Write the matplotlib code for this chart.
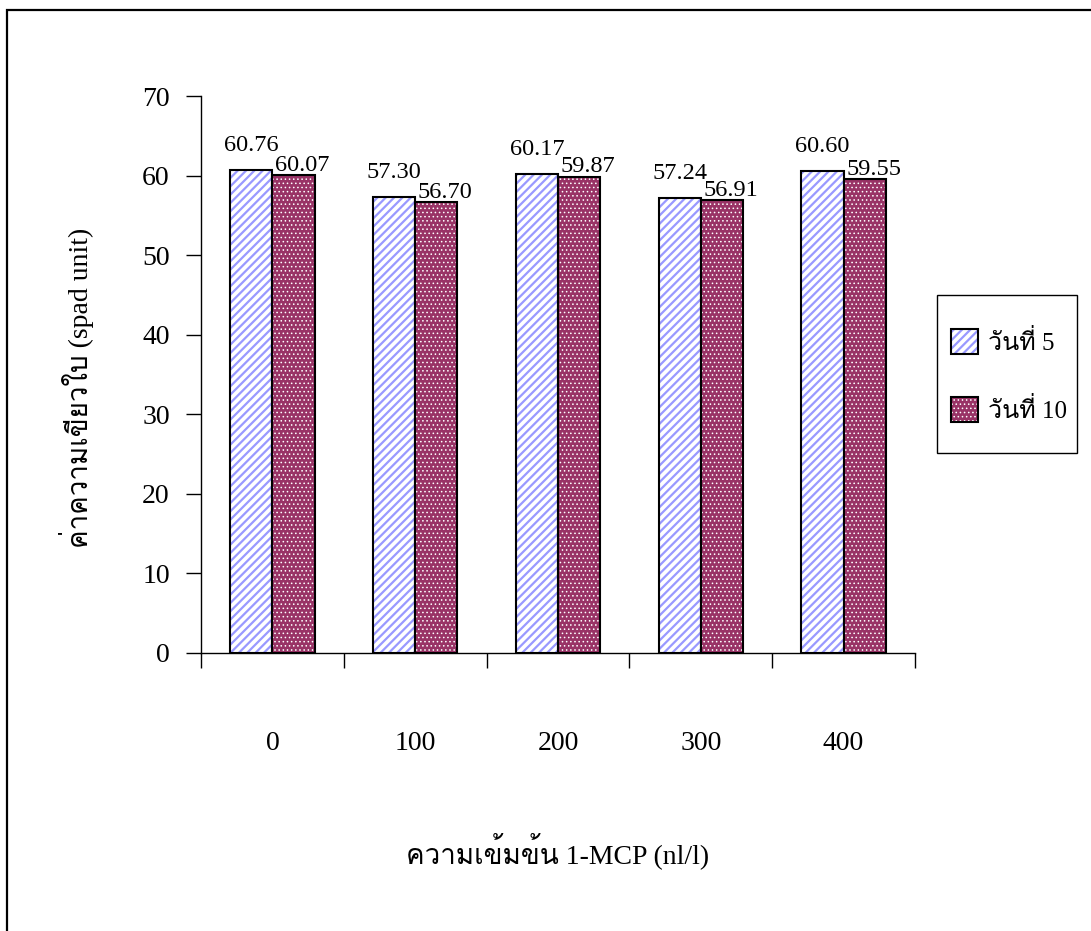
import matplotlib
matplotlib.use('Agg')
import matplotlib.pyplot as plt
from matplotlib import font_manager
from matplotlib.ft2font import FT2Font
from matplotlib.patches import Patch, Rectangle

# ---------------- data ----------------
categories = ['0', '100', '200', '300', '400']
day5 = [60.76, 57.30, 60.17, 57.24, 60.60]
day10 = [60.07, 56.70, 59.87, 56.91, 59.55]
series_names = ['วันที่ 5', 'วันที่ 10']
yticks = [0, 10, 20, 30, 40, 50, 60, 70]
ylabel = 'ค่าความเขียวใบ (spad unit)'
xlabel = 'ความเข้มข้น 1-MCP (nl/l)'


def find_thai_font():
    seen = set()
    for f in font_manager.fontManager.ttflist:
        if f.fname in seen:
            continue
        seen.add(f.fname)
        try:
            cm = FT2Font(f.fname).get_charmap()
        except Exception:
            continue
        if 0x0E27 in cm and 0x0E35 in cm and 0x0E19 in cm:
            return f.name
    return None


thai = find_thai_font()
fams = ['Liberation Serif'] + ([thai] if thai else []) + ['DejaVu Sans']
plt.rcParams['font.family'] = fams

W, H = 1091, 931
fig = plt.figure(figsize=(W / 100, H / 100), dpi=100)

# outer frame (left & top visible)
fig.add_artist(Rectangle((7 / W, -0.5), 2.0, 0.5 + 1 - 10 / H, transform=fig.transFigure,
                         fill=False, edgecolor='black', linewidth=1.6))

ax = fig.add_axes([201 / W, 1 - 653 / H, (915 - 201) / W, (653 - 96) / H])
ax.set_xlim(0, len(categories))
ax.set_ylim(0, 70)

w = 0.295
centers = [i + 0.5 for i in range(len(categories))]
xb = [c - w / 2 for c in centers]
xr = [c + w / 2 for c in centers]

blue = '#9999FF'
red = '#993366'
HATCH_B, HATCH_R = '////', '....'
LW_B, LW_R = 1.6, 0.6


def set_hlw(patches, lw):
    for p in patches:
        if hasattr(p, 'set_hatch_linewidth'):
            p.set_hatch_linewidth(lw)


plt.rcParams['hatch.linewidth'] = LW_B
b1 = ax.bar(xb, day5, width=w, color='white', hatch=HATCH_B, edgecolor=blue, linewidth=0)
set_hlw(b1, LW_B)
ax.bar(xb, day5, width=w, fill=False, edgecolor='black', linewidth=1.5)
plt.rcParams['hatch.linewidth'] = LW_R
b2 = ax.bar(xr, day10, width=w, color=red, hatch=HATCH_R, edgecolor='white', linewidth=0)
set_hlw(b2, LW_R)
ax.bar(xr, day10, width=w, fill=False, edgecolor='black', linewidth=1.5)

for x, v in zip(xb, day5):
    ax.annotate(f'{v:.2f}', xy=(x, v), xytext=(0, 13.5), textcoords='offset points',
                ha='center', va='baseline', fontsize=17.5)
for x, v in zip(xr, day10):
    ax.annotate(f'{v:.2f}', xy=(x, v), xytext=(6.5, 3.0), textcoords='offset points',
                ha='center', va='baseline', fontsize=17.5)

for s in ['top', 'right']:
    ax.spines[s].set_visible(False)
ax.spines['left'].set_linewidth(1.0)
ax.spines['bottom'].set_linewidth(1.0)

ax.set_yticks(yticks)
ax.set_yticklabels([str(t) for t in yticks], fontsize=20)
ax.tick_params(axis='y', direction='out', length=10.5, width=1, pad=12)

ax.set_xticks(range(len(categories) + 1))
ax.set_xticklabels([])
ax.tick_params(axis='x', which='major', direction='out', length=11, width=1)
ax.set_xticks(centers, minor=True)
ax.set_xticklabels(categories, minor=True, fontsize=20)
ax.tick_params(axis='x', which='minor', length=0, pad=56)

fig.text(77 / W, 1 - 388 / H, ylabel, rotation=90, ha='center', va='center', fontsize=20)
fig.text(558 / W, 1 - 851 / H, xlabel, ha='center', va='center', fontsize=20)

# legend box
fig.add_artist(Rectangle((937 / W, 1 - 453 / H), (1077 - 937) / W, (453 - 295) / H,
                         transform=fig.transFigure, fill=False, edgecolor='black',
                         linewidth=1.0))
h1 = (Patch(facecolor='white', hatch=HATCH_B, edgecolor=blue, linewidth=0),
      Patch(fill=False, edgecolor='black', linewidth=1.5))
h2 = (Patch(facecolor=red, hatch=HATCH_R, edgecolor='white', linewidth=0),
      Patch(fill=False, edgecolor='black', linewidth=1.5))
leg = fig.legend([h1, h2], series_names, loc='center left',
                 bbox_to_anchor=(951 / W, 1 - 376 / H), fontsize=18,
                 frameon=False, handlelength=1.08, handleheight=1.15,
                 labelspacing=1.7, borderpad=0, borderaxespad=0, handletextpad=0.4)
for p in leg.findobj(Patch):
    hs = p.get_hatch()
    if hs == HATCH_B:
        set_hlw([p], LW_B)
    elif hs == HATCH_R:
        set_hlw([p], LW_R)

fig.savefig('out.png', dpi=100, facecolor='white')
